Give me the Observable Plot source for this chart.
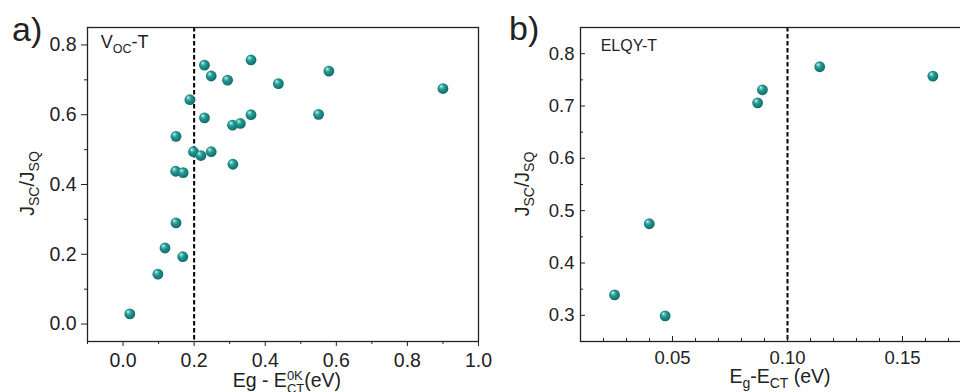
<!DOCTYPE html>
<html><head><meta charset="utf-8">
<script src="https://cdn.jsdelivr.net/npm/d3@7"></script>
<script src="https://cdn.jsdelivr.net/npm/@observablehq/plot@0.6"></script>
<style>
html,body{margin:0;padding:0;background:#fff;overflow:hidden;}
#wrap{position:relative;width:960px;height:392px;overflow:hidden;background:#fff;}
#wrap svg{position:absolute;top:0;overflow:visible;}
</style></head><body><div id="wrap"></div>
<script>
// ---- Panel a: Voc-T ----
const vocX = [0.019, 0.098, 0.118, 0.168, 0.149, 0.148, 0.169, 0.149, 0.188, 0.198, 0.219, 0.248, 0.229, 0.229, 0.248, 0.294, 0.360, 0.309, 0.308, 0.330, 0.360, 0.437, 0.550, 0.579, 0.900];
const vocY = [0.029, 0.143, 0.218, 0.193, 0.290, 0.438, 0.434, 0.538, 0.643, 0.494, 0.483, 0.494, 0.591, 0.742, 0.711, 0.699, 0.757, 0.458, 0.570, 0.575, 0.600, 0.689, 0.601, 0.725, 0.675];
const aXTicks = [0.0, 0.2, 0.4, 0.6, 0.8, 1.0];
const aXMinor = [-0.1, 0.1, 0.3, 0.5, 0.7, 0.9];
const aYTicks = [0.0, 0.2, 0.4, 0.6, 0.8];
const aYMinor = [0.1, 0.3, 0.5, 0.7];
const aThreshold = [0.2];

// ---- Panel b: ELQY-T ----
const elqyX = [0.0248, 0.0399, 0.0468, 0.0870, 0.0891, 0.1140, 0.1632];
const elqyY = [0.339, 0.475, 0.299, 0.706, 0.731, 0.775, 0.757];
const bXTicks = [0.05, 0.10, 0.15];
const bXMinor = [0.02, 0.03, 0.04, 0.06, 0.07, 0.08, 0.09, 0.11, 0.12, 0.13, 0.14, 0.16, 0.17];
const bYTicks = [0.3, 0.4, 0.5, 0.6, 0.7, 0.8];
const bYMinor = [0.35, 0.45, 0.55, 0.65, 0.75];
const bThreshold = [0.1];

const FONT = '"Liberation Sans", Arial, sans-serif';
const INK = "#222";
const wrap = document.getElementById("wrap");

function addGradient(svg, id) {
  const defs = d3.select(svg).insert("defs", ":first-child");
  const g = defs.append("radialGradient").attr("id", id)
    .attr("cx", 0.45).attr("cy", 0.45).attr("r", 0.6).attr("fx", 0.33).attr("fy", 0.28);
  [[0, "#e6fbf9"], [0.18, "#6cc7c2"], [0.45, "#23958f"], [0.8, "#137a75"], [1, "#0b5c58"]]
    .forEach(([o, c]) => g.append("stop").attr("offset", o).attr("stop-color", c));
}

function richText(svg, x, y, parts, opts = {}) {
  const t = d3.select(svg).append("text").attr("x", x).attr("y", y)
    .attr("font-size", opts.size).attr("fill", INK).attr("font-family", FONT)
    .attr("text-anchor", opts.anchor || "start");
  if (opts.rotate) t.attr("transform", `rotate(-90 ${x} ${y})`);
  const spans = parts.map(p => {
    const s = t.append("tspan").text(p.t);
    if (p.size) s.attr("font-size", p.size);
    if (p.dy) s.attr("dy", p.dy);
    if (p.dx) s.attr("dx", p.dx);
    return s;
  });
  return {t, spans};
}

// ---- Build panel a ----
const svgA = Plot.plot({
  width: 490, height: 392,
  marginLeft: 87, marginRight: 12, marginTop: 27, marginBottom: 51,
  style: {background: "transparent", fontFamily: FONT, color: INK},
  x: {domain: [-0.1, 1.0]},
  y: {domain: [-0.05, 0.85]},
  marks: [
    Plot.ruleX(aThreshold, {stroke: "#000", strokeWidth: 2, strokeDasharray: "4.5,2.5"}),
    Plot.axisX(aXTicks, {tickSize: 5, tickPadding: 7, fontSize: 19.5, tickFormat: d3.format(".1f"), label: null, stroke: INK}),
    Plot.axisX(aXMinor, {tickSize: 3, fill: "none", label: null, stroke: INK}),
    Plot.axisY(aYTicks, {tickSize: 6, tickPadding: 5, fontSize: 19.5, tickFormat: d3.format(".1f"), label: null, stroke: INK}),
    Plot.axisY(aYMinor, {tickSize: 3, fill: "none", label: null, stroke: INK}),
    Plot.frame({stroke: INK, strokeWidth: 1.3}),
    Plot.dot(vocX.map((x, i) => ({x, y: vocY[i]})), {x: "x", y: "y", r: 5.4, fill: "url(#sphA)", stroke: "none"})
  ]
});
wrap.appendChild(svgA);
svgA.style.left = "0px";
addGradient(svgA, "sphA");

// ---- Build panel b ----
const svgB = Plot.plot({
  width: 490, height: 392,
  marginLeft: 90, marginRight: 9, marginTop: 27, marginBottom: 51,
  style: {background: "transparent", fontFamily: FONT, color: INK},
  x: {domain: [0.01, 0.18]},
  y: {domain: [0.25, 0.85]},
  marks: [
    Plot.ruleX(bThreshold, {stroke: "#000", strokeWidth: 2, strokeDasharray: "4.5,2.5"}),
    Plot.axisX(bXTicks, {tickSize: 0, tickPadding: 9, fontSize: 18.5, tickFormat: d3.format(".2f"), label: null}),
    Plot.axisX(bXTicks, {tickSize: -5, fill: "none", label: null, stroke: INK}),
    Plot.axisX(bXMinor, {tickSize: -3, fill: "none", label: null, stroke: INK}),
    Plot.axisY(bYTicks, {tickSize: 0, tickPadding: 6, fontSize: 18.5, tickFormat: d3.format(".1f"), label: null}),
    Plot.axisY(bYTicks, {tickSize: -5, fill: "none", label: null, stroke: INK}),
    Plot.axisY(bYMinor, {tickSize: -3, fill: "none", label: null, stroke: INK}),
    Plot.frame({stroke: INK, strokeWidth: 1.3}),
    Plot.dot(elqyX.map((x, i) => ({x, y: elqyY[i]})), {x: "x", y: "y", r: 5.4, fill: "url(#sphB)", stroke: "none"})
  ]
});
wrap.appendChild(svgB);
svgB.style.left = "490px";
addGradient(svgB, "sphB");

// ---- Text: panel a ----
richText(svgA, 12, 40.5, [{t: "a)"}], {size: 34});
richText(svgA, 100.7, 48.3, [{t: "V"}, {t: "OC", size: 12.5, dy: 5}, {t: "-T", size: 18, dy: -5}], {size: 18});
richText(svgA, 33.5, 183.5, [{t: "J"}, {t: "SC", size: 14, dy: 5}, {t: "/J", size: 19.5, dy: -5}, {t: "SQ", size: 14, dy: 5}], {size: 19.5, rotate: true, anchor: "middle"});
{
  const {spans} = richText(svgA, 232.7, 387.3, [
    {t: "Eg - E"}, {t: "0K", size: 13, dy: -7}, {t: "CT", size: 13, dy: 12.3}, {t: "(eV)", size: 19.5, dy: -5.3}
  ], {size: 19.5});
  const wSup = spans[1].node().getComputedTextLength();
  const wSub = spans[2].node().getComputedTextLength();
  spans[2].attr("dx", -wSup);
  spans[3].attr("dx", Math.max(0, wSup - wSub));
}

// ---- Text: panel b ----
richText(svgB, 19, 40, [{t: "b)"}], {size: 34});
richText(svgB, 110.7, 51, [{t: "ELQY-T"}], {size: 16});
richText(svgB, 39, 184, [{t: "J"}, {t: "SC", size: 14, dy: 5}, {t: "/J", size: 19.5, dy: -5}, {t: "SQ", size: 14, dy: 5}], {size: 19.5, rotate: true, anchor: "middle"});
richText(svgB, 290, 383, [{t: "E"}, {t: "g", size: 14, dy: 5}, {t: "-E", size: 19.5, dy: -5}, {t: "CT", size: 14, dy: 5}, {t: " (eV)", size: 19.5, dy: -5}], {size: 19.5, anchor: "middle"});
</script></body></html>
